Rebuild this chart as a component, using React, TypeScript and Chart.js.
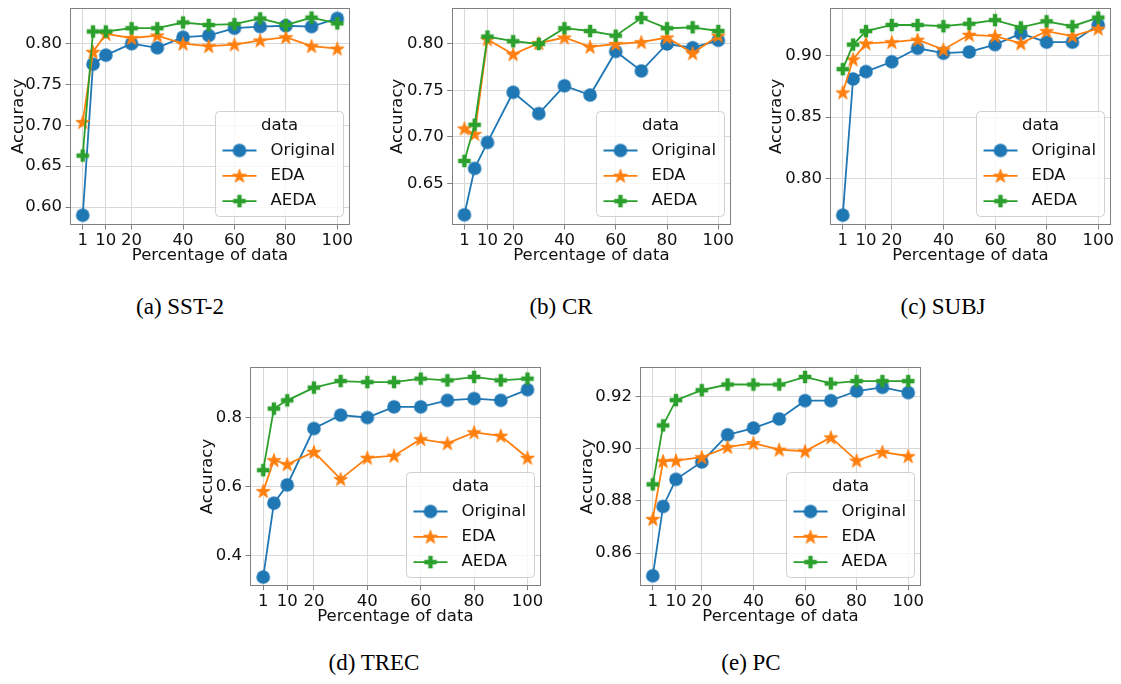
import React, { useEffect, useRef } from "react";
import { Chart, registerables } from "chart.js";

Chart.register(...registerables);

// ---------------- data ----------------
const percentages = [1, 5, 10, 20, 30, 40, 50, 60, 70, 80, 90, 100];
const xTickValues = [1, 10, 20, 40, 60, 80, 100];
const xRange = [-3.95, 104.95];
const seriesNames = ["Original", "EDA", "AEDA"];

const sst2Original = [0.590, 0.775, 0.786, 0.800, 0.795, 0.808, 0.810, 0.819, 0.821, 0.822, 0.821, 0.831];
const sst2EDA = [0.704, 0.790, 0.812, 0.807, 0.810, 0.800, 0.797, 0.799, 0.804, 0.808, 0.797, 0.794];
const sst2AEDA = [0.663, 0.815, 0.815, 0.819, 0.819, 0.826, 0.823, 0.824, 0.831, 0.823, 0.832, 0.825];
const sst2YTicks = [0.6, 0.65, 0.7, 0.75, 0.8];
const sst2YRange = [0.578, 0.844];

const crOriginal = [0.616, 0.666, 0.694, 0.748, 0.725, 0.755, 0.745, 0.792, 0.771, 0.800, 0.796, 0.804];
const crEDA = [0.709, 0.703, 0.805, 0.789, 0.801, 0.807, 0.797, 0.800, 0.802, 0.807, 0.790, 0.809];
const crAEDA = [0.674, 0.713, 0.808, 0.803, 0.800, 0.817, 0.814, 0.809, 0.828, 0.817, 0.818, 0.814];
const crYTicks = [0.65, 0.7, 0.75, 0.8];
const crYRange = [0.605, 0.839];

const subjOriginal = [0.770, 0.881, 0.887, 0.895, 0.906, 0.902, 0.903, 0.909, 0.918, 0.911, 0.911, 0.925];
const subjEDA = [0.870, 0.897, 0.910, 0.911, 0.913, 0.905, 0.917, 0.916, 0.910, 0.920, 0.916, 0.922];
const subjAEDA = [0.889, 0.909, 0.920, 0.925, 0.925, 0.924, 0.926, 0.929, 0.923, 0.928, 0.924, 0.931];
const subjYTicks = [0.8, 0.85, 0.9];
const subjYRange = [0.762, 0.939];

const trecOriginal = [0.337, 0.552, 0.605, 0.769, 0.808, 0.801, 0.832, 0.832, 0.851, 0.856, 0.851, 0.882];
const trecEDA = [0.587, 0.677, 0.665, 0.701, 0.622, 0.684, 0.690, 0.738, 0.726, 0.758, 0.748, 0.684];
const trecAEDA = [0.648, 0.827, 0.851, 0.888, 0.907, 0.904, 0.904, 0.914, 0.909, 0.919, 0.909, 0.914];
const trecYTicks = [0.4, 0.6, 0.8];
const trecYRange = [0.312, 0.947];

const pcOriginal = [0.8513, 0.8779, 0.8883, 0.895, 0.9054, 0.908, 0.9115, 0.9185, 0.9185, 0.9222, 0.9236, 0.9216];
const pcEDA = [0.8731, 0.8953, 0.8955, 0.8968, 0.9007, 0.9022, 0.8997, 0.8991, 0.9044, 0.8955, 0.8988, 0.8972];
const pcAEDA = [0.8864, 0.909, 0.9187, 0.9225, 0.9247, 0.9247, 0.9247, 0.9276, 0.9251, 0.926, 0.926, 0.926];
const pcYTicks = [0.86, 0.88, 0.9, 0.92];
const pcYRange = [0.8475, 0.9313];

const captions = ["(a) SST-2", "(b) CR", "(c) SUBJ", "(d) TREC", "(e) PC"];

// ---------------- styling ----------------
const COLORS = ["#1f77b4", "#ff7f0e", "#2ca02c"];
const FONT = "'DejaVu Sans', sans-serif";
const FS = 16.5;
const GRID = "#d8d8d8";
const SPINE = "#808080";
const TEXT = "#111111";

type PanelCfg = {
  key: string;
  series: number[][];
  yTicks: number[];
  yRange: number[];
  dec: number;
  cx: number; cy: number; cw: number; ch: number;
  plotL: number; plotR: number; plotT: number; plotB: number;
};

const panels: PanelCfg[] = [
  { key: "a", series: [sst2Original, sst2EDA, sst2AEDA], yTicks: sst2YTicks, yRange: sst2YRange, dec: 2,
    cx: 0, cy: 0, cw: 360, ch: 268, plotL: 70, plotR: 350, plotT: 5, plotB: 225 },
  { key: "b", series: [crOriginal, crEDA, crAEDA], yTicks: crYTicks, yRange: crYRange, dec: 2,
    cx: 379, cy: 0, cw: 362, ch: 268, plotL: 451.7, plotR: 731, plotT: 5, plotB: 225 },
  { key: "c", series: [subjOriginal, subjEDA, subjAEDA], yTicks: subjYTicks, yRange: subjYRange, dec: 2,
    cx: 758, cy: 0, cw: 363, ch: 268, plotL: 830, plotR: 1111, plotT: 5, plotB: 225 },
  { key: "d", series: [trecOriginal, trecEDA, trecAEDA], yTicks: trecYTicks, yRange: trecYRange, dec: 1,
    cx: 189, cy: 340, cw: 362, ch: 289, plotL: 250, plotR: 540.7, plotT: 367.3, plotB: 585.7 },
  { key: "e", series: [pcOriginal, pcEDA, pcAEDA], yTicks: pcYTicks, yRange: pcYRange, dec: 2,
    cx: 569, cy: 340, cw: 362, ch: 289, plotL: 640, plotR: 921, plotT: 367.3, plotB: 585.7 },
];

const captionPos = [
  { x: 180, y: 306 },
  { x: 561, y: 306 },
  { x: 943, y: 306 },
  { x: 374, y: 662 },
  { x: 751, y: 662 },
];

// ---------------- marker images ----------------
function makeCircle(color: string) {
  const c = document.createElement("canvas");
  c.width = 16; c.height = 16;
  const g = c.getContext("2d")!;
  g.fillStyle = color;
  g.beginPath();
  g.arc(8, 8, 6.8, 0, Math.PI * 2);
  g.fill();
  return c;
}
function makeStar(color: string) {
  const c = document.createElement("canvas");
  c.width = 18; c.height = 18;
  const g = c.getContext("2d")!;
  const R = 7.2, r = R * 0.382, cx = 9, cy = 9.6;
  g.fillStyle = color; g.strokeStyle = color; g.lineWidth = 1; g.lineJoin = "miter";
  g.beginPath();
  for (let i = 0; i < 10; i++) {
    const ang = -Math.PI / 2 + (i * Math.PI) / 5;
    const rr = i % 2 === 0 ? R : r;
    const px = cx + rr * Math.cos(ang), py = cy + rr * Math.sin(ang);
    if (i === 0) g.moveTo(px, py); else g.lineTo(px, py);
  }
  g.closePath(); g.fill(); g.stroke();
  return c;
}
function makePlus(color: string) {
  const c = document.createElement("canvas");
  c.width = 16; c.height = 16;
  const g = c.getContext("2d")!;
  const L = 6.3, t = 2.2, o = 8;
  g.fillStyle = color;
  g.beginPath();
  g.moveTo(o - t, o - L); g.lineTo(o + t, o - L); g.lineTo(o + t, o - t); g.lineTo(o + L, o - t);
  g.lineTo(o + L, o + t); g.lineTo(o + t, o + t); g.lineTo(o + t, o + L); g.lineTo(o - t, o + L);
  g.lineTo(o - t, o + t); g.lineTo(o - L, o + t); g.lineTo(o - L, o - t); g.lineTo(o - t, o - t);
  g.closePath(); g.fill();
  return c;
}

// ---------------- plugins ----------------
const framePlugin = {
  id: "frame",
  afterDatasetsDraw(chart: any) {
    const { ctx, chartArea: a } = chart;
    ctx.save();
    ctx.strokeStyle = SPINE;
    ctx.lineWidth = 1;
    const l = Math.round(a.left) + 0.5, t = Math.round(a.top) + 0.5;
    const r = Math.round(a.right) - 0.5, b = Math.round(a.bottom) - 0.5;
    ctx.strokeRect(l, t, r - l, b - t);
    ctx.restore();
  },
};

function makeLegendPlugin(markers: HTMLCanvasElement[]) {
  return {
    id: "innerLegend",
    afterDraw(chart: any) {
      const { ctx, chartArea: a } = chart;
      const w = 128, h = 105;
      const x0 = Math.round(a.right - 7 - w) + 0.5;
      const y0 = Math.round(a.bottom - 9 - h) + 0.5;
      ctx.save();
      const rad = 4;
      ctx.beginPath();
      ctx.moveTo(x0 + rad, y0);
      ctx.lineTo(x0 + w - rad, y0);
      ctx.arcTo(x0 + w, y0, x0 + w, y0 + rad, rad);
      ctx.lineTo(x0 + w, y0 + h - rad);
      ctx.arcTo(x0 + w, y0 + h, x0 + w - rad, y0 + h, rad);
      ctx.lineTo(x0 + rad, y0 + h);
      ctx.arcTo(x0, y0 + h, x0, y0 + h - rad, rad);
      ctx.lineTo(x0, y0 + rad);
      ctx.arcTo(x0, y0, x0 + rad, y0, rad);
      ctx.closePath();
      ctx.fillStyle = "rgba(255,255,255,0.8)";
      ctx.fill();
      ctx.strokeStyle = "#d0d0d0";
      ctx.lineWidth = 1;
      ctx.stroke();

      ctx.font = `${FS}px ${FONT}`;
      ctx.fillStyle = TEXT;
      ctx.textAlign = "center";
      ctx.textBaseline = "middle";
      ctx.fillText("data", x0 + w / 2, y0 + 14.5);

      chart.data.datasets.forEach((ds: any, i: number) => {
        const yy = y0 + 39 + i * 25.3;
        ctx.strokeStyle = ds.borderColor;
        ctx.lineWidth = 1.8;
        ctx.beginPath();
        ctx.moveTo(x0 + 7, yy);
        ctx.lineTo(x0 + 41, yy);
        ctx.stroke();
        const m = markers[i];
        ctx.drawImage(m, x0 + 24 - m.width / 2, yy - m.height / 2);
        ctx.fillStyle = TEXT;
        ctx.textAlign = "left";
        ctx.fillText(ds.label, x0 + 55, yy);
      });
      ctx.restore();
    },
  };
}

// ---------------- components ----------------
function Panel({ cfg }: { cfg: PanelCfg }) {
  const ref = useRef<HTMLCanvasElement>(null);
  useEffect(() => {
    if (!ref.current) return;
    const markers = [makeCircle(COLORS[0]), makeStar(COLORS[1]), makePlus(COLORS[2])];
    const yAxisWidth = cfg.plotL - cfg.cx;
    const xAxisHeight = cfg.cy + cfg.ch - cfg.plotB;
    const chart = new Chart(ref.current, {
      type: "line",
      data: {
        datasets: cfg.series.map((vals, i) => ({
          label: seriesNames[i],
          data: percentages.map((p, j) => ({ x: p, y: vals[j] })),
          borderColor: COLORS[i],
          backgroundColor: COLORS[i],
          borderWidth: 1.8,
          pointStyle: markers[i] as any,
          pointRadius: 6,
          pointHoverRadius: 6,
          tension: 0,
          order: 2 - i,
        })),
      },
      options: {
        responsive: false,
        animation: false,
        devicePixelRatio: 1,
        layout: {
          padding: {
            left: 0,
            top: cfg.plotT - cfg.cy,
            right: cfg.cx + cfg.cw - cfg.plotR,
            bottom: 0,
          },
        },
        plugins: { legend: { display: false }, tooltip: { enabled: false } },
        scales: {
          x: {
            type: "linear",
            min: xRange[0],
            max: xRange[1],
            afterBuildTicks: (scale: any) => {
              scale.ticks = xTickValues.map((v) => ({ value: v }));
            },
            afterFit: (scale: any) => {
              scale.height = xAxisHeight;
              scale.paddingLeft = 0;
              scale.paddingRight = 0;
            },
            ticks: {
              autoSkip: false,
              maxRotation: 0,
              padding: 1.5,
              color: TEXT,
              font: { family: FONT, size: FS },
              callback: (v: any) => String(v),
            },
            grid: { color: GRID, lineWidth: 1, tickColor: SPINE, tickLength: 4.5, drawTicks: true },
            border: { display: false },
            title: {
              display: true,
              text: "Percentage of data",
              color: TEXT,
              font: { family: FONT, size: FS },
              padding: { top: 0, bottom: 2.6 },
            },
          },
          y: {
            type: "linear",
            min: cfg.yRange[0],
            max: cfg.yRange[1],
            afterBuildTicks: (scale: any) => {
              scale.ticks = cfg.yTicks.map((v) => ({ value: v }));
            },
            afterFit: (scale: any) => {
              scale.width = yAxisWidth;
              scale.paddingTop = 0;
              scale.paddingBottom = 0;
            },
            ticks: {
              autoSkip: false,
              padding: 3.5,
              color: TEXT,
              font: { family: FONT, size: FS },
              callback: (v: any) => Number(v).toFixed(cfg.dec),
            },
            grid: { color: GRID, lineWidth: 1, tickColor: SPINE, tickLength: 4.5, drawTicks: true },
            border: { display: false },
            title: {
              display: true,
              text: "Accuracy",
              color: TEXT,
              font: { family: FONT, size: FS },
              padding: { top: 8.6, bottom: 0 },
            },
          },
        },
      },
      plugins: [framePlugin, makeLegendPlugin(markers)],
    } as any);
    return () => chart.destroy();
  }, [cfg]);
  return (
    <canvas
      ref={ref}
      width={cfg.cw}
      height={cfg.ch}
      style={{ position: "absolute", left: cfg.cx, top: cfg.cy, width: cfg.cw, height: cfg.ch }}
    />
  );
}

export default function App() {
  return (
    <div
      style={{
        position: "absolute",
        left: 0,
        top: 0,
        width: 1121,
        height: 684,
        background: "#ffffff",
        overflow: "hidden",
      }}
    >
      {panels.map((p) => (
        <Panel key={p.key} cfg={p} />
      ))}
      {captions.map((c, i) => (
        <div
          key={c}
          style={{
            position: "absolute",
            left: captionPos[i].x,
            top: captionPos[i].y,
            transform: "translate(-50%, -50%)",
            fontFamily: "'Liberation Serif', 'Times New Roman', serif",
            fontSize: 23,
            lineHeight: 1,
            color: "#000",
            whiteSpace: "nowrap",
          }}
        >
          {c}
        </div>
      ))}
    </div>
  );
}
